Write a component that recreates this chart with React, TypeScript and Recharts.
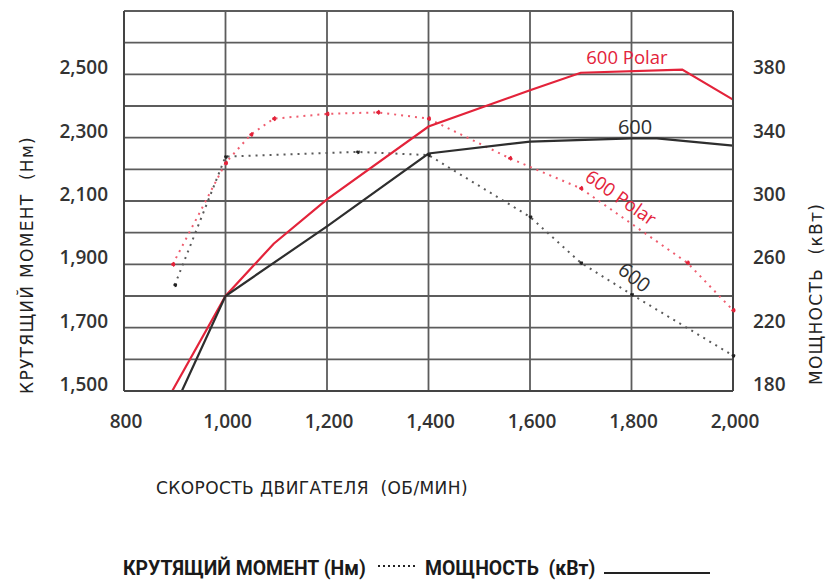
import React from 'react';
import { LineChart, Line, XAxis, YAxis, CartesianGrid, ReferenceDot } from 'recharts';

// axis ticks
const rpmTicks = [800, 1000, 1200, 1400, 1600, 1800, 2000];
const torqueTicks = [1500, 1600, 1700, 1800, 1900, 2000, 2100, 2200, 2300, 2400, 2500, 2600, 2700];
const torqueLabels = [1500, 1700, 1900, 2100, 2300, 2500];
const powerTicks = [180, 200, 220, 240, 260, 280, 300, 320, 340, 360, 380, 400, 420];
const powerLabels = [180, 220, 260, 300, 340, 380];

// power (kW), solid lines
const polarPowerRpm = [895, 1000, 1095, 1200, 1400, 1600, 1700, 1900, 2000];
const polarPowerKw = [180, 240, 273, 301, 347, 370, 381, 383, 364];
const stdPowerRpm = [914, 1000, 1200, 1400, 1600, 1800, 1850, 2000];
const stdPowerKw = [180, 240, 284, 330, 337.5, 339.5, 339.5, 335];

// torque (Nm), dotted lines
const polarTorqueRpm = [896, 1000, 1050, 1095, 1200, 1300, 1400, 1560, 1700, 1910, 2000];
const polarTorqueNm = [1900, 2220, 2310, 2360, 2375, 2380, 2360, 2235, 2140, 1905, 1755];
const stdTorqueRpm = [900, 1000, 1260, 1400, 1600, 1700, 1800, 2000];
const stdTorqueNm = [1835, 2240, 2255, 2245, 2050, 1905, 1805, 1612];

const zip = (xs: number[], ys: number[]) => xs.map((x, i) => ({ rpm: x, v: ys[i] }));

const RED = '#e3233a';
const DARK = '#2e2e2e';
const GRID = '#5c5c5c';
const tickFont = "'Open Sans', sans-serif";
const titleFont = "'DejaVu Sans', sans-serif";

const LeftTick = (props: any) => {
  const { x, y, payload } = props;
  if (!torqueLabels.includes(payload.value)) return null;
  return (
    <text x={x - 8} y={y - 7} textAnchor="end" dominantBaseline="central" fontFamily={tickFont} fontWeight={600} fontSize={19} fill="#333">
      {payload.value.toLocaleString('en-US')}
    </text>
  );
};

const RightTick = (props: any) => {
  const { x, y, payload } = props;
  if (!powerLabels.includes(payload.value)) return null;
  return (
    <text x={x + 12} y={y - 7} textAnchor="start" dominantBaseline="central" fontFamily={tickFont} fontWeight={600} fontSize={19} fill="#333">
      {payload.value}
    </text>
  );
};

const BottomTick = (props: any) => {
  const { x, y, payload } = props;
  return (
    <text x={x + 2} y={y + 22} textAnchor="middle" dominantBaseline="central" fontFamily={tickFont} fontWeight={600} fontSize={19} fill="#333">
      {payload.value.toLocaleString('en-US')}
    </text>
  );
};

const tag = (text: string, color: string, angle: number, size: number) => (p: any) => (
  <text
    x={p.cx}
    y={p.cy}
    textAnchor="middle"
    dominantBaseline="central"
    fontFamily={tickFont}
    fontSize={size}
    fill={color}
    transform={`rotate(${angle} ${p.cx} ${p.cy})`}
  >
    {text}
  </text>
);

export default function App() {
  return (
    <div style={{ position: 'absolute', left: 0, top: 0, width: 833, height: 585, background: '#fff' }}>
      <LineChart width={833} height={585} margin={{ top: 11, right: 0, left: 0, bottom: 154 }}>
        <CartesianGrid yAxisId="torque" stroke={GRID} strokeWidth={1.8} />
        <XAxis
          type="number"
          dataKey="rpm"
          domain={[800, 2000]}
          ticks={rpmTicks}
          allowDuplicatedCategory={false}
          height={40}
          axisLine={{ stroke: '#444', strokeWidth: 2 }}
          tickLine={false}
          tick={<BottomTick />}
        />
        <YAxis
          yAxisId="torque"
          orientation="left"
          type="number"
          domain={[1500, 2700]}
          ticks={torqueTicks}
          width={124}
          axisLine={{ stroke: '#444', strokeWidth: 2 }}
          tickLine={false}
          tick={<LeftTick />}
        />
        <YAxis
          yAxisId="power"
          orientation="right"
          type="number"
          domain={[180, 420]}
          ticks={powerTicks}
          width={100}
          axisLine={{ stroke: '#444', strokeWidth: 2 }}
          tickLine={false}
          tick={<RightTick />}
        />
        <Line
          yAxisId="torque"
          data={zip(polarTorqueRpm, polarTorqueNm)}
          dataKey="v"
          type="linear"
          stroke="#ef5d6f"
          strokeWidth={2}
          strokeDasharray="2 5"
          dot={{ r: 1.6, fill: RED, stroke: RED }}
          isAnimationActive={false}
        />
        <Line
          yAxisId="torque"
          data={zip(stdTorqueRpm, stdTorqueNm)}
          dataKey="v"
          type="linear"
          stroke="#5a5a5a"
          strokeWidth={2}
          strokeDasharray="2 5"
          dot={{ r: 1.4, fill: '#222', stroke: '#222' }}
          isAnimationActive={false}
        />
        <Line
          yAxisId="power"
          data={zip(polarPowerRpm, polarPowerKw)}
          dataKey="v"
          type="linear"
          stroke={RED}
          strokeWidth={2.2}
          dot={false}
          isAnimationActive={false}
        />
        <Line
          yAxisId="power"
          data={zip(stdPowerRpm, stdPowerKw)}
          dataKey="v"
          type="linear"
          stroke={DARK}
          strokeWidth={2.2}
          dot={false}
          isAnimationActive={false}
        />
        <ReferenceDot yAxisId="power" x={1791} y={391.5} r={0} shape={tag('600 Polar', RED, 0, 18.5)} />
        <ReferenceDot yAxisId="power" x={1807} y={347} r={0} shape={tag('600', DARK, 0, 20)} />
        <ReferenceDot yAxisId="torque" x={1780} y={2113} r={0} shape={tag('600 Polar', RED, 35, 18.5)} />
        <ReferenceDot yAxisId="torque" x={1806} y={1860} r={0} shape={tag('600', DARK, 38, 20)} />
      </LineChart>

      <div style={{ position: 'absolute', left: 27, top: 265, transform: 'translate(-50%, -50%) rotate(-90deg)', whiteSpace: 'nowrap', fontFamily: titleFont, fontSize: 17, color: '#222', letterSpacing: 1.3 }}>
        КРУТЯЩИЙ МОМЕНТ&nbsp;&nbsp;(Нм)
      </div>
      <div style={{ position: 'absolute', left: 816, top: 294, transform: 'translate(-50%, -50%) rotate(-90deg)', whiteSpace: 'nowrap', fontFamily: titleFont, fontSize: 17, color: '#222', letterSpacing: 1.3 }}>
        МОЩНОСТЬ&nbsp;&nbsp;(кВт)
      </div>
      <div style={{ position: 'absolute', left: 312, top: 488, transform: 'translate(-50%, -50%)', whiteSpace: 'nowrap', fontFamily: titleFont, fontSize: 17, color: '#222', letterSpacing: 0.4 }}>
        СКОРОСТЬ ДВИГАТЕЛЯ&nbsp;&nbsp;(ОБ/МИН)
      </div>

      <div style={{ position: 'absolute', left: 123, top: 568, transform: 'translateY(-50%)', whiteSpace: 'nowrap', fontFamily: "Roboto, sans-serif", fontWeight: 700, fontSize: 19.4, color: '#1a1a1a' }}>
        КРУТЯЩИЙ МОМЕНТ (Нм)
      </div>
      <svg width={40} height={10} style={{ position: 'absolute', left: 377, top: 561 }}>
        <line x1={1} y1={5} x2={40} y2={5} stroke="#222" strokeWidth={2} strokeDasharray="2 3" />
      </svg>
      <div style={{ position: 'absolute', left: 425, top: 568, transform: 'translateY(-50%)', whiteSpace: 'nowrap', fontFamily: "Roboto, sans-serif", fontWeight: 700, fontSize: 19.4, color: '#1a1a1a' }}>
        МОЩНОСТЬ&nbsp;&nbsp;(кВт)
      </div>
      <svg width={106} height={10} style={{ position: 'absolute', left: 604, top: 568 }}>
        <line x1={0} y1={5} x2={106} y2={5} stroke="#222" strokeWidth={2} />
      </svg>
    </div>
  );
}
